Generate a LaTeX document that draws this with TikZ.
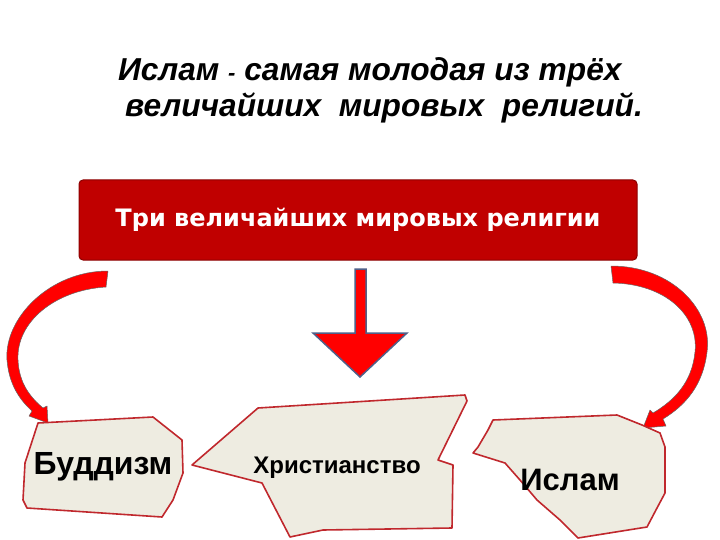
\documentclass[tikz,border=0pt]{standalone}
\usepackage{fontspec}
\setmainfont{Liberation Sans}
\newfontfamily\boxfont{DejaVu Sans}
\definecolor{boxred}{HTML}{C00000}
\definecolor{boxedge}{HTML}{8B0000}
\definecolor{beige}{HTML}{EEECE1}
\definecolor{shapeedge}{HTML}{C0282D}
\definecolor{arrowedge}{HTML}{4F6089}
\begin{document}
\begin{tikzpicture}[x=1pt,y=-1pt,
  patch/.style={fill=beige,draw=shapeedge,line width=1.6pt,line join=round},
  curvearrow/.style={fill=red,draw=black!60,line width=0.5pt,line join=round},
  label/.style={font=\bfseries,text=black,inner sep=0pt}]
\useasboundingbox (0,0) rectangle (720,540);
% title
\node[anchor=base west,inner sep=0pt,font=\bfseries\itshape\fontsize{31.7}{36}\selectfont] (t1) at (118,81) {Ислам {\fontsize{22}{26}\selectfont -} самая молодая из трёх};
\node[anchor=base west,inner sep=0pt,font=\bfseries\itshape\fontsize{31.7}{36}\selectfont] (t2) at (125,117) {величайших\ \ мировых\ \ религий.};
% red box
\node[fill=boxred,draw=boxedge,line width=1pt,rounded corners=4pt,minimum width=558pt,minimum height=80pt,inner sep=0pt,text=white,font=\boxfont\bfseries\fontsize{24}{30}\selectfont] (box) at (358,220) {Три величайших мировых религии};
% down arrow
\draw[fill=red,draw=arrowedge,line width=1.5pt,line join=miter] (355,269) -- (366,269) -- (366,333) -- (407,333) -- (360,377) -- (313,333) -- (355,333) -- cycle;
% left curved arrow
\draw[curvearrow] (108,271) .. controls (50,271) and (4,318) .. (7,360) .. controls (9,385) and (20,400) .. (32,411) -- (29,416) -- (48,423) -- (47,406) -- (43,408) .. controls (30,397) and (19,383) .. (18,360) .. controls (16,322) and (55,290) .. (106,287) -- cycle;
% right curved arrow
\draw[curvearrow] (611,266) .. controls (672,266) and (713,310) .. (707,352) .. controls (703,385) and (686,405) .. (663,419) -- (666,426) -- (643,428) -- (650,410) -- (653,413) .. controls (675,400) and (692,382) .. (695,352) .. controls (699,315) and (665,284) .. (613,283) -- cycle;
% Buddhism patch
\draw[patch] (38,423) -- (153,417) -- (182,440) -- (183,473) -- (173,500) -- (162,517) -- (27,508) -- (23,500) -- (25,463) -- cycle;
\node[label,font=\bfseries\fontsize{32}{36}\selectfont] (budd) at (103,467) {Буддизм};
% Christianity patch
\draw[patch] (258,408) -- (465,395) -- (467,401) -- (438,460) -- (453,465) -- (452,528) -- (323,530) -- (290,537) -- (262,483) -- (192,465) -- cycle;
\node[label,font=\bfseries\fontsize{24}{28}\selectfont] (chr) at (337,468) {Христианство};
% Islam patch
\draw[patch] (493,420) -- (617,415) -- (642,425) -- (660,433) -- (665,447) -- (665,493) -- (657,508) -- (647,527) -- (578,538) -- (560,520) -- (537,500) -- (520,480) -- (505,463) -- (473,453) -- (478,447) -- (488,430) -- cycle;
\node[label,font=\bfseries\fontsize{31}{36}\selectfont] (isl) at (570,480) {Ислам};
\end{tikzpicture}
\end{document}
